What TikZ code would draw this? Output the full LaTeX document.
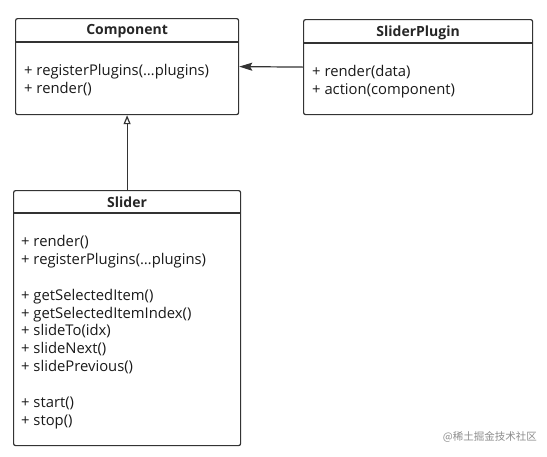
\documentclass[tikz,border=0pt]{standalone}
\usepackage{fontspec}
\setmainfont{Open Sans}
\newfontfamily\cjkfont{Noto Sans CJK SC}
\usetikzlibrary{arrows.meta,positioning}
\begin{document}
\begin{tikzpicture}[x=1pt, y=-1pt,
    classbox/.style={draw=black!80, line width=1.2pt, rounded corners=2pt, anchor=north west, inner sep=0pt},
    classtitle/.style={font=\bfseries\fontsize{14}{15}\selectfont, text=black!85},
    methods/.style={anchor=north west, align=left, inner sep=0pt, font=\fontsize{14.8}{17.9}\selectfont, text=black!90},
    divider/.style={draw=black!80, line width=1.2pt}]
    \useasboundingbox (0,0) rectangle (547,456);

    % Component class
    \node[classbox, minimum width=223pt, minimum height=96pt] (component) at (15,18) {};
    \node[classtitle] (componentTitle) at ([yshift=-13.5pt]component.north) {Component};
    \draw[divider] ([yshift=-24pt]component.north west) -- ([yshift=-24pt]component.north east);
    \node[methods] (componentMethods) at (24,64)
        {+ registerPlugins(…plugins)\\+ render()};

    % SliderPlugin class
    \node[classbox, minimum width=229pt, minimum height=95pt] (sliderplugin) at (303,19) {};
    \node[classtitle] (sliderpluginTitle) at ([yshift=-13.5pt]sliderplugin.north) {SliderPlugin};
    \draw[divider] ([yshift=-24pt]sliderplugin.north west) -- ([yshift=-24pt]sliderplugin.north east);
    \node[methods] (sliderpluginMethods) at (312,65)
        {+ render(data)\\+ action(component)};

    % Slider class
    \node[classbox, minimum width=227pt, minimum height=255pt] (slider) at (13,190) {};
    \node[classtitle] (sliderTitle) at ([yshift=-12.5pt]slider.north) {Slider};
    \draw[divider] ([yshift=-23pt]slider.north west) -- ([yshift=-23pt]slider.north east);
    \node[methods] (sliderMethods) at (21,235)
        {+ render()\\+ registerPlugins(…plugins)\\[17.9pt]
         + getSelectedItem()\\+ getSelectedItemIndex()\\+ slideTo(idx)\\+ slideNext()\\+ slidePrevious()\\[17.9pt]
         + start()\\+ stop()};

    % Relations
    \draw[line width=1.2pt, black!80, -{Stealth[length=13pt, width=8pt, inset=2pt]}] (sliderplugin.west) -- (component.east);
    \draw[line width=1.2pt, black!80, -{Triangle[open, length=9pt, width=7pt]}] (slider.north) -- (component.south);

    % Watermark
    \node[anchor=east, inner sep=0pt, text=black!45, font=\cjkfont\fontsize{10.5}{12}\selectfont] (mark) at (537,437) {@稀土掘金技术社区};
\end{tikzpicture}
\end{document}
